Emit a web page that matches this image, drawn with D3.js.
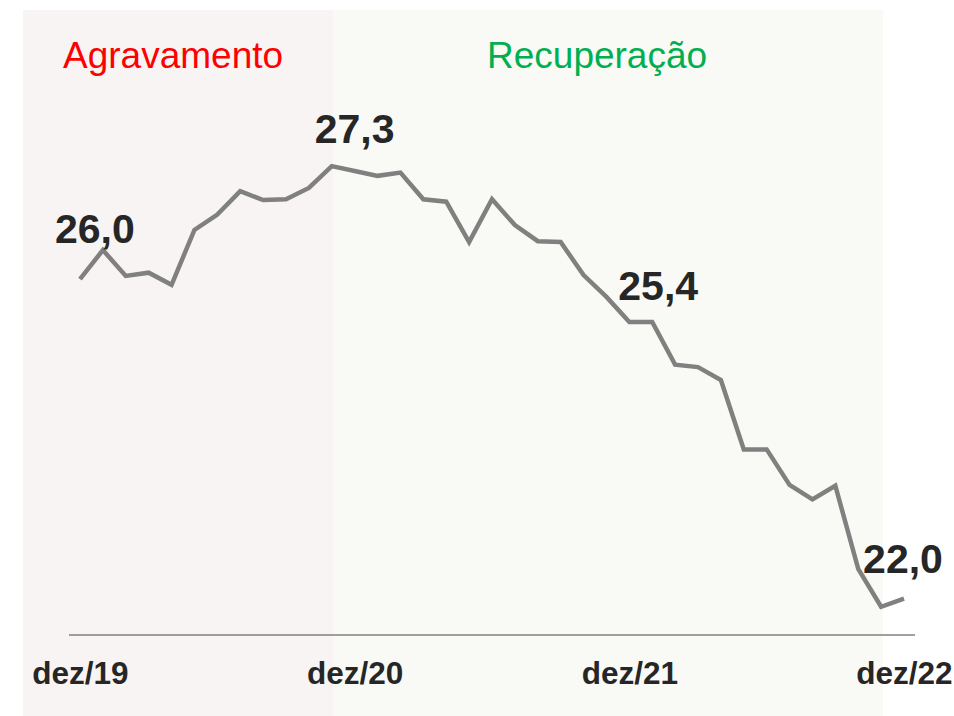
<!DOCTYPE html>
<html>
<head>
<meta charset="utf-8">
<script src="https://cdn.jsdelivr.net/npm/d3@7"></script>
<style>
  html, body { margin: 0; padding: 0; background: #ffffff; }
  svg { display: block; }
  text { font-family: "Liberation Sans", Arial, sans-serif; }
</style>
</head>
<body>
<svg id="chart" width="954" height="716"></svg>
<script>
// Monthly index, dez/19 .. dez/22 (37 months)
const months = d3.range(37);
const values = [25.96, 26.32, 26.00, 26.04, 25.89, 26.57, 26.76, 27.05, 26.94, 26.95,
                27.09, 27.36, 27.30, 27.24, 27.28, 26.95, 26.92, 26.42, 26.95, 26.63,
                26.43, 26.42, 26.01, 25.74, 25.43, 25.43, 24.90, 24.87, 24.71, 23.85,
                23.85, 23.41, 23.23, 23.40, 22.37, 21.90, 22.00];
const tickIndex = [0, 12, 24, 36];
const tickLabels = ["dez/19", "dez/20", "dez/21", "dez/22"];
const annotIndex = [1, 12, 25, 36];
const annotLabels = ["26,0", "27,3", "25,4", "22,0"];
const annotOffsets = [[-8, -7], [0, -28], [6, -22], [-1, -26]];
const phaseLabels = ["Agravamento", "Recuperação"];
const phaseColors = ["#ff0000", "#00b050"];

const svg = d3.select("#chart");

const x = d3.scaleLinear().domain([0, 36]).range([80, 904]);
const y = d3.scaleLinear().domain([21.55, 27.3]).range([635, 171]);

// Background panels
svg.append("rect").attr("x", 23).attr("y", 10).attr("width", 310).attr("height", 706)
  .attr("fill", "#f8f4f3");
svg.append("rect").attr("x", 333).attr("y", 10).attr("width", 550).attr("height", 706)
  .attr("fill", "#f9f9f5");

// Phase labels
svg.append("text").attr("x", 63).attr("y", 68).attr("font-size", 37)
  .attr("fill", phaseColors[0]).text(phaseLabels[0]);
svg.append("text").attr("x", 487).attr("y", 68).attr("font-size", 37)
  .attr("fill", phaseColors[1]).text(phaseLabels[1]);

// Axis (baseline + labels)
const xAxis = d3.axisBottom(x).tickValues(tickIndex)
  .tickFormat((d, i) => tickLabels[i]).tickSize(0).tickPadding(0);
const gx = svg.append("g").attr("transform", "translate(0,635)").call(xAxis);
gx.select(".domain").remove();
gx.selectAll("text")
  .attr("y", 49).attr("dy", null)
  .attr("font-size", 31.5).attr("font-weight", "bold")
  .attr("fill", "#262626")
  .style("font-family", "'Liberation Sans', Arial, sans-serif");
svg.append("line").attr("x1", 69).attr("x2", 915).attr("y1", 635).attr("y2", 635)
  .attr("stroke", "#808080").attr("stroke-width", 1.6);

// Line
const line = d3.line().x(d => x(d)).y(d => y(values[d]));
svg.append("path").datum(months).attr("d", line)
  .attr("fill", "none").attr("stroke", "#808080").attr("stroke-width", 4.5)
  .attr("stroke-linejoin", "miter").attr("stroke-linecap", "butt");

// Annotations
svg.selectAll(".annot").data(annotIndex).enter().append("text")
  .attr("class", "annot")
  .attr("x", (d, i) => x(d) + annotOffsets[i][0])
  .attr("y", (d, i) => y(values[d]) + annotOffsets[i][1])
  .attr("text-anchor", "middle")
  .attr("font-size", 41).attr("font-weight", "bold").attr("fill", "#262626")
  .text((d, i) => annotLabels[i]);
</script>
</body>
</html>
